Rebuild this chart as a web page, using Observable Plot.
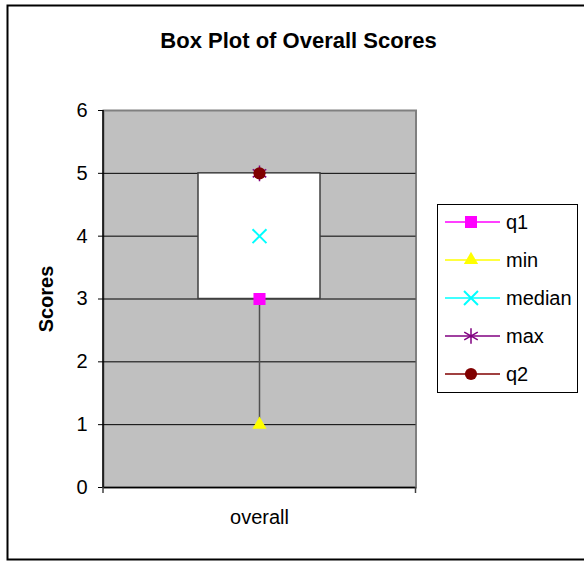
<!DOCTYPE html>
<html>
<head>
<meta charset="utf-8">
<script src="https://cdn.jsdelivr.net/npm/d3@7"></script>
<script src="https://cdn.jsdelivr.net/npm/@observablehq/plot@0.6"></script>
<style>
  html, body { margin: 0; padding: 0; background: white; }
</style>
</head>
<body>
<div id="chart"></div>
<script>
// ---- data ----
const categories = ["overall"];
const seriesNames = ["q1", "min", "median", "max", "q2"];
const q1Values = [3];
const minValues = [1];
const medianValues = [4];
const maxValues = [5];
const q2Values = [5];
const yTicks = [0, 1, 2, 3, 4, 5, 6];
const titleText = "Box Plot of Overall Scores";
const yLabel = "Scores";

// ---- styles ----
const FONT = "'Liberation Sans', Arial, Helvetica, sans-serif";
const seriesStyle = {
  q1:     {color: "#FF00FF", symbol: "square",   r: 6.8, filled: true,  sw: 1},
  min:    {color: "#FFFF00", symbol: "triangle", r: 5.3, filled: true,  sw: 1},
  median: {color: "#00FFFF", symbol: "times",    r: 6.4, filled: false, sw: 2},
  max:    {color: "#800080", symbol: "asterisk", r: 7.4, filled: false, sw: 1.5},
  q2:     {color: "#800000", symbol: "circle",   r: 6.1, filled: true,  sw: 1}
};

const rows = categories.map((c, i) => ({
  category: c,
  q1: q1Values[i], min: minValues[i], median: medianValues[i], max: maxValues[i], q2: q2Values[i]
}));

function dotMark(name) {
  const s = seriesStyle[name];
  const opts = {x: "category", y: name, symbol: s.symbol, r: s.r};
  if (s.filled) { opts.fill = s.color; opts.stroke = "none"; }
  else { opts.stroke = s.color; opts.strokeWidth = s.sw; opts.fill = "none"; }
  return Plot.dot(rows, opts);
}

const W = 584, H = 561;
const mL = 103, mR = 168.5, mT = 110, mB = 74;

const plot = Plot.plot({
  width: W, height: H,
  marginLeft: mL, marginRight: mR, marginTop: mT, marginBottom: mB,
  style: {fontFamily: FONT, background: "white", color: "black"},
  x: {domain: categories, padding: 0.44, label: null},
  y: {domain: [0, 6], label: null},
  marks: [
    Plot.frame({fill: "#C0C0C0", stroke: "#808080", strokeWidth: 2}),
    Plot.gridY(yTicks.slice(1, -1), {stroke: "black", strokeOpacity: 1, strokeWidth: 1}),
    Plot.barY(rows, {x: "category", y1: "q1", y2: "q2", fill: "white", stroke: "#404040", strokeWidth: 1.5}),
    Plot.ruleX(rows, {x: "category", y1: "min", y2: "q1", stroke: "#505050", strokeWidth: 1.5}),
    Plot.ruleX(rows, {x: "category", y1: "q2", y2: "max", stroke: "#505050", strokeWidth: 1.5}),
    Plot.ruleY([0], {stroke: "black", strokeWidth: 1.5}),
    Plot.axisY(yTicks, {tickSize: 5, tickPadding: 11, fontSize: 20, tickFormat: d => String(d)}),
    Plot.axisX({tickSize: 0, tickPadding: 22, fontSize: 20}),
    ...seriesNames.map(dotMark)
  ]
});

document.getElementById("chart").appendChild(plot);

// ---- decorations (frame, title, axis line, legend) ----
const svg = d3.select(plot);
const fx0 = mL, fx1 = W - mR, fy0 = mT, fy1 = H - mB;

// left axis line
svg.append("line").attr("x1", fx0).attr("x2", fx0).attr("y1", fy0).attr("y2", fy1)
  .attr("stroke", "black").attr("stroke-width", 1.5);
// category boundary ticks
[fx0, fx1].forEach(x => svg.append("line").attr("x1", x).attr("x2", x)
  .attr("y1", fy1).attr("y2", fy1 + 6).attr("stroke", "#404040").attr("stroke-width", 1.5));

// outer chart border
svg.append("rect").attr("x", 7.5).attr("y", 5.5).attr("width", W).attr("height", 554)
  .attr("fill", "none").attr("stroke", "black").attr("stroke-width", 2);

// title
svg.append("text").attr("x", 298.5).attr("y", 48).attr("text-anchor", "middle")
  .attr("font-family", FONT).attr("font-weight", "bold").attr("font-size", 22)
  .text(titleText);

// y label
svg.append("text").attr("transform", "translate(53,299) rotate(-90)")
  .attr("text-anchor", "middle").attr("font-family", FONT).attr("font-weight", "bold")
  .attr("font-size", 20).text(yLabel);

// legend
const lg = svg.append("g");
lg.append("rect").attr("x", 437.5).attr("y", 204.5).attr("width", 140).attr("height", 188)
  .attr("fill", "white").attr("stroke", "black").attr("stroke-width", 1);
const symMap = {square: d3.symbolSquare, triangle: d3.symbolTriangle, times: d3.symbolTimes,
  asterisk: d3.symbolAsterisk, circle: d3.symbolCircle};
seriesNames.forEach((name, i) => {
  const s = seriesStyle[name];
  const y = 222 + i * 38;
  lg.append("line").attr("x1", 445).attr("x2", 500).attr("y1", y).attr("y2", y)
    .attr("stroke", s.color).attr("stroke-width", 1.5);
  const p = lg.append("path").attr("transform", `translate(471,${y})`)
    .attr("d", d3.symbol(symMap[s.symbol], s.r * s.r * Math.PI)());
  if (s.filled) p.attr("fill", s.color);
  else p.attr("fill", "none").attr("stroke", s.color).attr("stroke-width", s.sw);
  lg.append("text").attr("x", 506).attr("y", y).attr("dy", "0.35em")
    .attr("text-anchor", "start")
    .attr("font-family", FONT).attr("font-size", 20).text(name);
});
</script>
</body>
</html>
